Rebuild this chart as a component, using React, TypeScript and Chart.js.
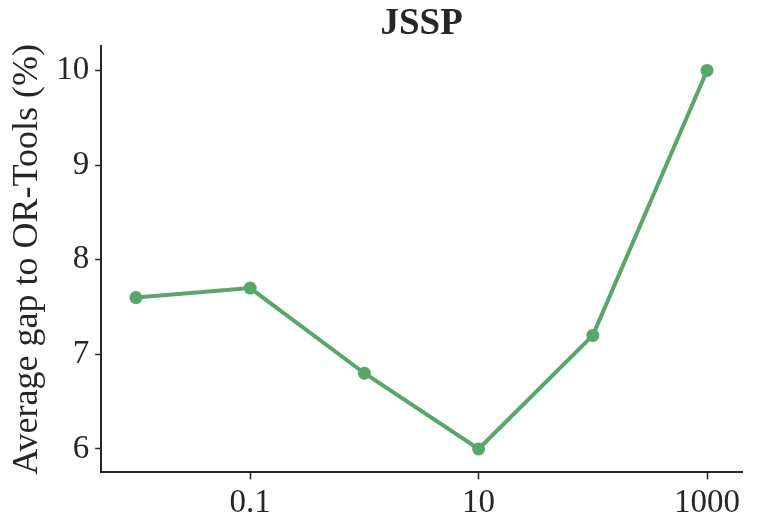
import React, { useEffect, useRef } from "react";
import { Chart, registerables } from "chart.js";

Chart.register(...registerables);

const xValues = [0.01, 0.1, 1, 10, 100, 1000];
const gapValues = [7.6, 7.7, 6.8, 6.0, 7.2, 10.0];
const xTickValues = [0.1, 10, 1000];
const yTickValues = [6, 7, 8, 9, 10];
const titleText = "JSSP";
const yTitleText = "Average gap to OR-Tools (%)";

const FONT = "Liberation Serif";
const INK = "#262626";
const GREEN = "#55A868";

export default function App() {
  const ref = useRef<HTMLCanvasElement | null>(null);
  useEffect(() => {
    if (!ref.current) return;
    const chart = new Chart(ref.current, {
      type: "line",
      data: {
        datasets: [
          {
            data: xValues.map((x, i) => ({ x, y: gapValues[i] })),
            borderColor: GREEN,
            backgroundColor: GREEN,
            borderWidth: 4,
            pointRadius: 6.5,
            pointBorderWidth: 0,
            pointBackgroundColor: GREEN,
            tension: 0,
          },
        ],
      },
      options: {
        animation: false,
        responsive: true,
        maintainAspectRatio: false,
        layout: { padding: { left: 6, right: 19, top: 0, bottom: 3 } },
        plugins: {
          legend: { display: false },
          tooltip: { enabled: false },
          title: {
            display: true,
            fullSize: false,
            text: titleText,
            color: INK,
            font: { family: FONT, size: 37, weight: "bold" },
            padding: { top: 2, bottom: 0 },
          },
        },
        scales: {
          x: {
            type: "logarithmic",
            min: 0.00496,
            max: 2023,
            afterBuildTicks: (scale: any) => {
              scale.ticks = xTickValues.map((v) => ({ value: v }));
            },
            ticks: {
              color: INK,
              font: { family: FONT, size: 33 },
              padding: 4,
              maxRotation: 0,
              autoSkip: false,
              callback: (v: any) => String(v),
            },
            grid: {
              display: true,
              drawOnChartArea: false,
              drawTicks: true,
              tickLength: 7,
              tickWidth: 1.5,
              tickColor: INK,
            },
            border: { display: true, color: INK, width: 2 },
          },
          y: {
            type: "linear",
            min: 5.752,
            max: 10.254,
            afterBuildTicks: (scale: any) => {
              scale.ticks = yTickValues.map((v) => ({ value: v }));
            },
            ticks: {
              color: INK,
              font: { family: FONT, size: 33 },
              padding: 6,
              autoSkip: false,
            },
            grid: {
              display: true,
              drawOnChartArea: false,
              drawTicks: true,
              tickLength: 6,
              tickWidth: 1.5,
              tickColor: INK,
            },
            border: { display: true, color: INK, width: 2 },
            title: {
              display: true,
              text: yTitleText,
              color: INK,
              font: { family: FONT, size: 36 },
              padding: { top: 0, bottom: 1 },
            },
          },
        },
      },
    });
    return () => chart.destroy();
  }, []);
  return (
    <div style={{ position: "fixed", left: 0, top: 0, width: 761, height: 530, background: "#fff" }}>
      <canvas ref={ref} />
    </div>
  );
}
